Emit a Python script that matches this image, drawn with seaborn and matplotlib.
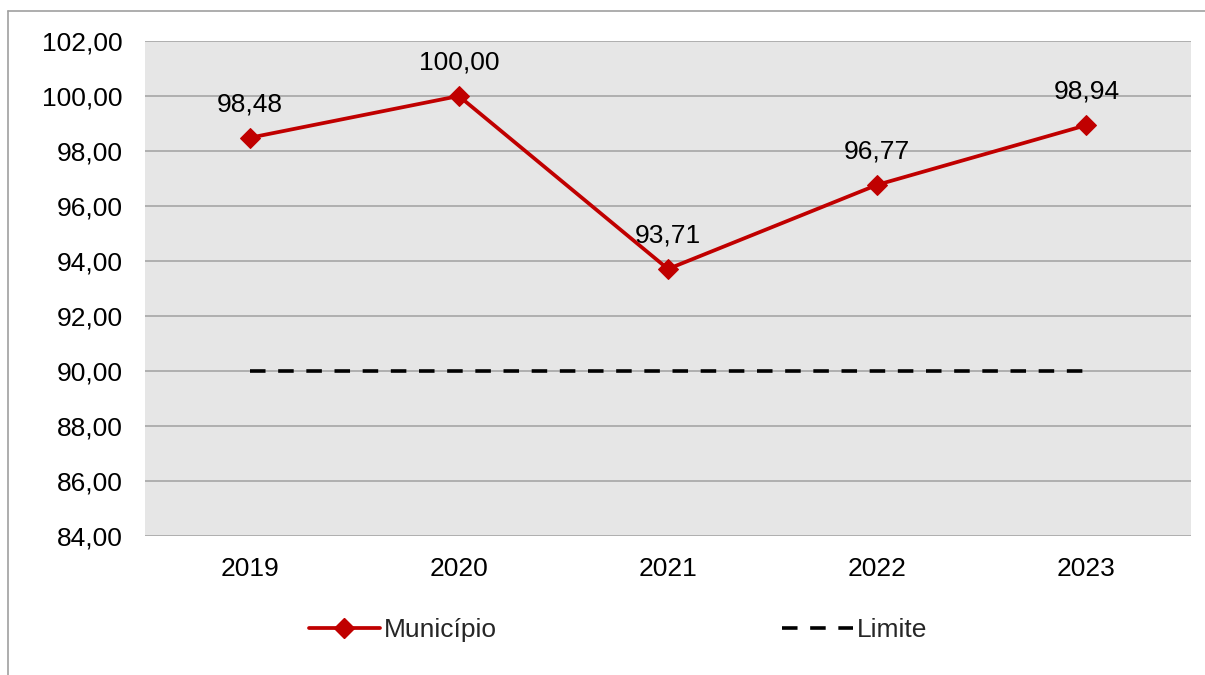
import matplotlib
matplotlib.use("Agg")
import matplotlib.pyplot as plt
import seaborn as sns
import pandas as pd
from matplotlib.lines import Line2D
from matplotlib.ticker import FuncFormatter

years = ["2019", "2020", "2021", "2022", "2023"]
municipio = [98.48, 100.00, 93.71, 96.77, 98.94]
limite = [90.0, 90.0, 90.0, 90.0, 90.0]
y_ticks = [84, 86, 88, 90, 92, 94, 96, 98, 100, 102]

sns.set_style("white", {"axes.facecolor": "#E6E6E6"})
plt.rcParams["font.family"] = ["Liberation Sans", "DejaVu Sans"]

df = pd.DataFrame({"Ano": years, "Município": municipio, "Limite": limite})
df["x"] = range(len(years))

FS = 19

fig = plt.figure(figsize=(12.05, 6.75), dpi=100)
ax = fig.add_axes([145 / 1205, 1 - 536 / 675, (1191 - 145) / 1205, (536 - 41) / 675])
ax.set_facecolor("#E6E6E6")

red = "#C00000"
sns.lineplot(data=df, x="x", y="Município", ax=ax, color=red, lw=2.7,
             marker="D", markersize=10, markeredgecolor=red, markerfacecolor=red,
             label="Município", zorder=4)
sns.lineplot(data=df, x="x", y="Limite", ax=ax, color="black", lw=2.6,
             dashes=False, label="Limite", zorder=3)
ax.lines[-1].set_dashes((4.3, 3.5))

for i, v in enumerate(municipio):
    ax.annotate(f"{v:.2f}".replace(".", ","), (i, v), xytext=(0, 19),
                textcoords="offset points", ha="center", va="baseline",
                fontsize=FS, color="black", zorder=5)

ax.set_xlim(-0.5, 4.5)
ax.set_ylim(84, 102)
ax.set_yticks(y_ticks)
ax.yaxis.set_major_formatter(FuncFormatter(lambda v, p: f"{v:.2f}".replace(".", ",")))
ax.set_xticks(range(len(years)))
ax.set_xticklabels(years)
ax.set_xlabel("")
ax.set_ylabel("")
ax.grid(axis="y", color="#A6A6A6", lw=1.2, zorder=1)
ax.set_axisbelow(True)
for s in ax.spines.values():
    s.set_visible(False)
ax.tick_params(axis="both", length=0, labelsize=FS, colors="black")
ax.tick_params(axis="y", pad=16)
ax.tick_params(axis="x", pad=15)

ax.get_legend().remove()
handles = [
    Line2D([], [], color=red, lw=2.7, marker="D", markersize=10),
    Line2D([], [], color="black", lw=2.6, dashes=(4.3, 3.5)),
]
fig.legend(handles, ["Município", "Limite"], loc="center", ncol=2,
           bbox_to_anchor=(618 / 1205, 1 - 630 / 675), frameon=False,
           fontsize=FS, handlelength=2.7, handletextpad=0.15, columnspacing=10.8)

fig.add_artist(Line2D([8 / 1205, 8 / 1205], [0, 1 - 11 / 675], transform=fig.transFigure,
                      color="#A0A0A0", lw=1.2))
fig.add_artist(Line2D([8 / 1205, 1], [1 - 11 / 675, 1 - 11 / 675], transform=fig.transFigure,
                      color="#A0A0A0", lw=1.2))

fig.savefig("out.png", dpi=100, facecolor="white")
